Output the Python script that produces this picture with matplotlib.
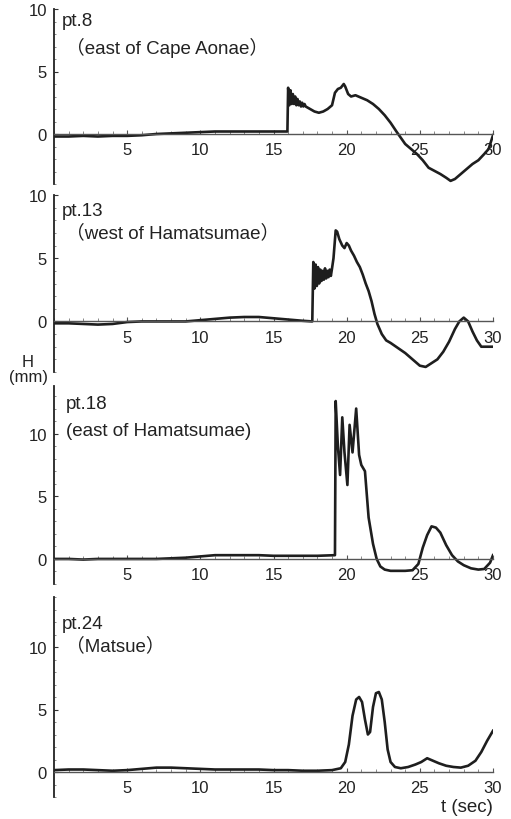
import matplotlib
matplotlib.use("Agg")
import matplotlib.pyplot as plt
from matplotlib.ticker import MultipleLocator

FONT = ['Liberation Sans', 'Noto Sans CJK JP', 'DejaVu Sans']
plt.rcParams['font.family'] = FONT

# ---------------- data ----------------
t1 = [0, 1, 2, 3, 4, 5, 6, 7, 8, 9, 10, 11, 12, 13, 14, 15, 15.95,
      16.0, 16.08, 16.16, 16.24, 16.32, 16.40, 16.48, 16.56, 16.64, 16.72, 16.80, 16.88,
      16.96, 17.04, 17.12, 17.2, 17.35, 17.5, 17.8, 18.1, 18.4, 18.7, 19.0, 19.2, 19.4,
      19.6, 19.8, 19.9, 20.1, 20.3, 20.6, 21.0, 21.4, 21.8, 22.2, 22.6, 23.0, 23.4, 23.7,
      24.0, 24.4, 24.8, 25.2, 25.6, 26.0, 26.4, 26.8, 27.1, 27.4, 27.8, 28.2, 28.6, 29.0,
      29.4, 29.7, 30.0]
h1 = [-0.2, -0.2, -0.15, -0.2, -0.15, -0.15, -0.1, 0.0, 0.05, 0.1, 0.15, 0.2, 0.2, 0.2, 0.2, 0.2, 0.2,
      3.7, 2.3, 3.5, 2.4, 3.2, 2.4, 3.0, 2.3, 2.8, 2.3, 2.6, 2.2,
      2.5, 2.2, 2.4, 2.2, 2.1, 2.0, 1.8, 1.7, 1.8, 2.0, 2.3, 3.3, 3.6,
      3.7, 4.0, 3.8, 3.2, 3.0, 3.1, 2.9, 2.7, 2.4, 2.0, 1.5, 0.9, 0.2, -0.3,
      -0.8, -1.2, -1.6, -2.1, -2.7, -2.95, -3.2, -3.5, -3.75, -3.6, -3.2, -2.8, -2.4, -2.1,
      -1.6, -1.2, -0.1]

t2 = [0, 1, 2, 3, 4, 5, 6, 7, 8, 9, 10, 11, 12, 13, 14, 15, 16, 17, 17.65,
      17.72, 17.8, 17.88, 17.96, 18.04, 18.12, 18.2, 18.28, 18.36, 18.44, 18.52, 18.6,
      18.68, 18.76, 18.84, 18.92, 19.0, 19.1, 19.25, 19.35, 19.5, 19.7, 19.85, 20.0,
      20.15, 20.3, 20.5, 20.7, 20.9, 21.1, 21.3, 21.5, 21.7, 21.9, 22.1, 22.4, 22.7,
      23.0, 23.5, 24.0, 24.5, 25.0, 25.4, 25.8, 26.2, 26.6, 27.0, 27.4, 27.7, 28.0,
      28.3, 28.6, 28.9, 29.2, 29.5, 30.0]
h2 = [-0.15, -0.15, -0.2, -0.25, -0.2, -0.05, 0, 0, 0, 0, 0.1, 0.2, 0.3, 0.35, 0.35, 0.25, 0.15, 0.05, 0.0,
      4.7, 2.6, 4.5, 2.8, 4.3, 3.0, 4.1, 3.2, 4.0, 3.3, 4.2, 3.4,
      4.0, 3.5, 4.1, 3.6, 4.2, 5.0, 7.2, 7.1, 6.5, 6.0, 5.8, 6.2,
      6.0, 5.6, 5.2, 4.7, 4.3, 3.7, 3.0, 2.4, 1.6, 0.6, -0.2, -1.0, -1.5,
      -1.7, -2.1, -2.5, -3.0, -3.5, -3.6, -3.3, -3.0, -2.4, -1.6, -0.6, 0.0, 0.3,
      0.0, -0.8, -1.5, -2.0, -2.0, -2.0]

t3 = [0, 1, 2, 3, 4, 5, 6, 7, 8, 9, 10, 11, 12, 13, 14, 15, 16, 17, 18, 19.2,
      19.25, 19.4, 19.55, 19.7, 19.85, 20.05, 20.2, 20.4, 20.65, 20.85, 21.0, 21.25,
      21.5, 21.8, 22.05, 22.3, 22.6, 23.0, 23.5, 24.0, 24.5, 24.9, 25.2, 25.5, 25.8,
      26.1, 26.4, 26.8, 27.2, 27.6, 28.0, 28.5, 29.0, 29.4, 29.8, 30.0]
h3 = [0.0, 0.0, -0.05, 0.0, 0.0, 0.0, 0.0, 0.0, 0.05, 0.1, 0.2, 0.3, 0.3, 0.3, 0.3, 0.25, 0.25, 0.25, 0.25, 0.3,
      12.6, 9.0, 6.7, 11.3, 8.5, 5.9, 10.7, 8.5, 12.0, 8.3, 7.5, 7.0,
      3.3, 1.2, 0.0, -0.6, -0.85, -0.95, -0.95, -0.95, -0.9, -0.4, 0.9, 1.9, 2.6,
      2.5, 2.1, 1.1, 0.3, -0.2, -0.5, -0.75, -0.85, -0.8, -0.3, 0.3]

t4 = [0, 1, 2, 3, 4, 5, 6, 7, 8, 9, 10, 11, 12, 13, 14, 15, 16, 17, 18, 19, 19.6,
      19.9, 20.15, 20.4, 20.65, 20.85, 21.05, 21.25, 21.45, 21.6, 21.8, 22.0, 22.2,
      22.4, 22.6, 22.8, 23.0, 23.3, 23.7, 24.2, 24.7, 25.1, 25.5, 25.9, 26.3, 26.8,
      27.3, 27.8, 28.3, 28.8, 29.2, 29.6, 30.0]
h4 = [0.15, 0.2, 0.2, 0.15, 0.1, 0.15, 0.25, 0.35, 0.35, 0.3, 0.25, 0.2, 0.2, 0.2, 0.2, 0.15, 0.15, 0.1, 0.1, 0.15, 0.3,
      0.8, 2.2, 4.5, 5.8, 6.0, 5.6, 4.2, 3.0, 3.2, 5.2, 6.3, 6.4,
      5.8, 4.0, 1.8, 0.8, 0.4, 0.3, 0.4, 0.6, 0.8, 1.1, 0.9, 0.7, 0.5,
      0.4, 0.35, 0.5, 0.9, 1.6, 2.5, 3.3]

names = ["pt.8", "pt.13", "pt.18", "pt.24"]
places = ["（east of Cape Aonae）", "（west of Hamatsumae）", "(east of Hamatsumae)", "（Matsue）"]
ylims = [(-4, 10), (-4, 10), (-2, 13.8), (-2, 14)]
xticks = [5, 10, 15, 20, 25, 30]
yticks = [0, 5, 10]

series = [(t1, h1), (t2, h2), (t3, h3), (t4, h4)]

# ---------------- layout (pixel based) ----------------
W, H = 511, 820
fig = plt.figure(figsize=(W / 100, H / 100), dpi=100)
x0, x1 = 54, 493
panels_px = [(10, 185), (196, 373), (387, 585), (598, 798)]
label_px = [(62, 22, 66, 48), (62, 212, 66, 233), (66, 405, 66, 432), (62, 625, 66, 646)]

ink = '#1e1e1e'
for i, ((top, bot), (t, h)) in enumerate(zip(panels_px, series)):
    ax = fig.add_axes([x0 / W, 1 - bot / H, (x1 - x0) / W, (bot - top) / H])
    ax.plot(t, h, color=ink, lw=1.9, solid_joinstyle='round')
    ax.set_xlim(0, 30)
    ax.set_ylim(*ylims[i])
    for s in ['top', 'right']:
        ax.spines[s].set_visible(False)
    ax.spines['bottom'].set_position(('data', 0))
    ax.spines['bottom'].set_color('#555555')
    ax.spines['bottom'].set_linewidth(1.0)
    ax.spines['left'].set_color('#222222')
    ax.spines['left'].set_linewidth(1.3)
    ax.set_xticks(xticks)
    ax.set_yticks(yticks)
    ax.xaxis.set_minor_locator(MultipleLocator(1))
    ax.yaxis.set_minor_locator(MultipleLocator(1))
    ax.tick_params(axis='x', which='major', direction='in', length=3, width=0.8,
                   color='#555555', labelsize=12, pad=6, labelcolor='#222222')
    ax.tick_params(axis='x', which='minor', direction='in', length=2, width=0.6, color='#777777')
    ax.tick_params(axis='y', which='major', direction='in', length=3, width=0.8,
                   color='#333333', labelsize=12, pad=5, labelcolor='#222222')
    ax.tick_params(axis='y', which='minor', direction='in', length=1.5, width=0.6, color='#777777')
    ax.patch.set_alpha(0)

    nx, ny, px, py = label_px[i]
    fig.text(nx / W, 1 - ny / H, names[i], fontsize=13.5, color='#222222',
             ha='left', va='center', family=FONT)
    fig.text(px / W, 1 - py / H, places[i], fontsize=13.5, color='#222222',
             ha='left', va='center', family=FONT)

fig.text(28 / W, 1 - 370 / H, "H\n(mm)", fontsize=12, color='#222222',
         ha='center', va='center', linespacing=1.05, family=FONT)
fig.text(493 / W, 1 - 808 / H, "t (sec)", fontsize=13.5, color='#222222',
         ha='right', va='center', family=FONT)

fig.savefig("out.png", dpi=100, facecolor='white')
